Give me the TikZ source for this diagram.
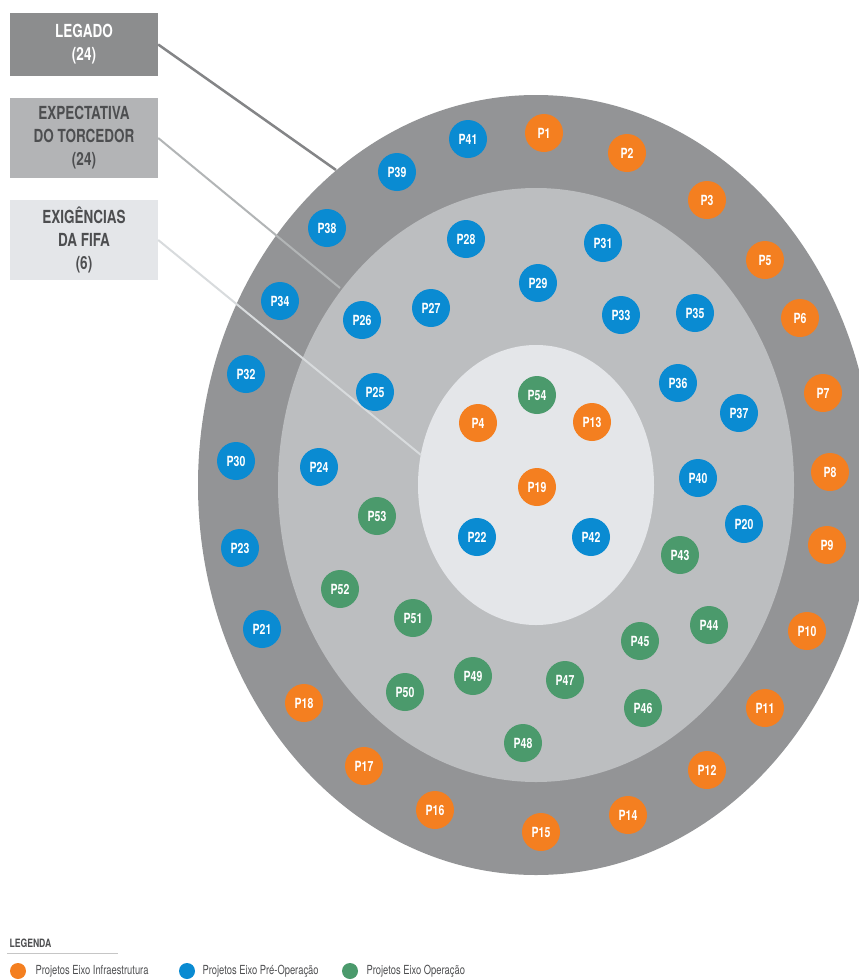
\documentclass[tikz,border=0pt]{standalone}
\usepackage{fontspec}
\setmainfont{TeX Gyre Heros}[FakeStretch=0.75]
\definecolor{infra}{HTML}{F47F20}
\definecolor{preop}{HTML}{0A8BD2}
\definecolor{oper}{HTML}{4B9A6C}
\definecolor{ringA}{HTML}{939496}
\definecolor{ringB}{HTML}{BCBEC0}
\definecolor{ringC}{HTML}{E4E6E9}
\definecolor{inktext}{HTML}{4D4E50}

\begin{document}
\begin{tikzpicture}[x = 1pt, y = -1pt,
  proj/.style = {circle, minimum size = 38pt, inner sep = 0pt, text = white, font = \bfseries\fontsize{14}{14}\selectfont},
  pinfra/.style = {proj, fill = infra},
  ppre/.style = {proj, fill = preop},
  pop/.style = {proj, fill = oper},
  catbox/.style = {minimum width = 148pt, inner sep = 0pt, align = center, font = \bfseries\fontsize{18}{23}\selectfont},
  keydot/.style = {circle, minimum size = 16pt, inner sep = 0pt},
  keytext/.style = {anchor = west, text = inktext, font = \fontsize{12.5}{12.5}\selectfont}]
\useasboundingbox (0,0) rectangle (859,980);
\fill[white] (0,0) rectangle (859,980);
\clip (0,0) rectangle (859,980);
\coordinate (ctr) at (536,485);
\fill[ringA] (ctr) ellipse (338 and 390);
\fill[ringB] (ctr) ellipse (258 and 297);
\fill[ringC] (ctr) ellipse (118 and 140);
\node[catbox, fill = ringA!95!black, text = white, minimum height = 63pt] (legado) at (84,44.5) {LEGADO\\(24)};
\node[catbox, fill = ringB!95!black, text = inktext, minimum height = 80pt] (torcedor) at (84,138) {EXPECTATIVA\\DO TORCEDOR\\(24)};
\node[catbox, fill = ringC, text = inktext, minimum height = 80pt] (fifa) at (84,240) {EXIGÊNCIAS\\DA FIFA\\(6)};
\coordinate (legadoEnd) at (336,170);
\coordinate (torcedorEnd) at (340,288);
\coordinate (fifaEnd) at (421,455);
\draw[line width = 2.5pt, ringA!90!black] (legado.east) -- (legadoEnd);
\draw[line width = 2pt, ringB!95!black] (torcedor.east) -- (torcedorEnd);
\draw[line width = 2pt, ringC!95!black] (fifa.east) -- (fifaEnd);
\node[pinfra] (p1) at (544,133) {P1};
\node[pinfra] (p2) at (627,153) {P2};
\node[pinfra] (p3) at (707,200) {P3};
\node[pinfra] (p4) at (478,423) {P4};
\node[pinfra] (p5) at (765,260) {P5};
\node[pinfra] (p6) at (800,318) {P6};
\node[pinfra] (p7) at (823,393) {P7};
\node[pinfra] (p8) at (830,472) {P8};
\node[pinfra] (p9) at (827,545) {P9};
\node[pinfra] (p10) at (807,631) {P10};
\node[pinfra] (p11) at (765,708) {P11};
\node[pinfra] (p12) at (707,770) {P12};
\node[pinfra] (p13) at (592,422) {P13};
\node[pinfra] (p14) at (628,815) {P14};
\node[pinfra] (p15) at (541,832) {P15};
\node[pinfra] (p16) at (435,810) {P16};
\node[pinfra] (p17) at (364,766) {P17};
\node[pinfra] (p18) at (304,703) {P18};
\node[pinfra] (p19) at (537,487) {P19};
\node[ppre] (p20) at (744,524) {P20};
\node[ppre] (p21) at (262,629) {P21};
\node[ppre] (p22) at (477,537) {P22};
\node[ppre] (p23) at (240,548) {P23};
\node[ppre] (p24) at (319,467) {P24};
\node[ppre] (p25) at (375,392) {P25};
\node[ppre] (p26) at (362,320) {P26};
\node[ppre] (p27) at (431,308) {P27};
\node[ppre] (p28) at (466,239) {P28};
\node[ppre] (p29) at (538,283) {P29};
\node[ppre] (p30) at (236,461) {P30};
\node[ppre] (p31) at (603,243) {P31};
\node[ppre] (p32) at (246,374) {P32};
\node[ppre] (p33) at (621,315) {P33};
\node[ppre] (p34) at (280,301) {P34};
\node[ppre] (p35) at (695,313) {P35};
\node[ppre] (p36) at (678,383) {P36};
\node[ppre] (p37) at (739,413) {P37};
\node[ppre] (p38) at (327,228) {P38};
\node[ppre] (p39) at (397,172) {P39};
\node[ppre] (p40) at (698,478) {P40};
\node[ppre] (p41) at (468,139) {P41};
\node[ppre] (p42) at (591,537) {P42};
\node[pop] (p43) at (680,555) {P43};
\node[pop] (p44) at (709,625) {P44};
\node[pop] (p45) at (640,641) {P45};
\node[pop] (p46) at (643,708) {P46};
\node[pop] (p47) at (565,680) {P47};
\node[pop] (p48) at (523,743) {P48};
\node[pop] (p49) at (473,676) {P49};
\node[pop] (p50) at (405,692) {P50};
\node[pop] (p51) at (413,618) {P51};
\node[pop] (p52) at (340,589) {P52};
\node[pop] (p53) at (377,516) {P53};
\node[pop] (p54) at (537,395) {P54};
\node[anchor = west, text = inktext, font = \bfseries\fontsize{11.5}{11.5}\selectfont] (legenda) at (6,943) {LEGENDA};
\draw[gray!45, line width = 1pt] (7,953) -- (118,953);
\node[keydot, fill = infra] (keyInfra) at (18,971) {};
\node[keytext] at (32,971) {Projetos Eixo Infraestrutura};
\node[keydot, fill = preop] (keyPre) at (187,971) {};
\node[keytext] at (199,971) {Projetos Eixo Pré-Operação};
\node[keydot, fill = oper] (keyOp) at (350,971) {};
\node[keytext] at (363,971) {Projetos Eixo Operação};
\end{tikzpicture}
\end{document}
